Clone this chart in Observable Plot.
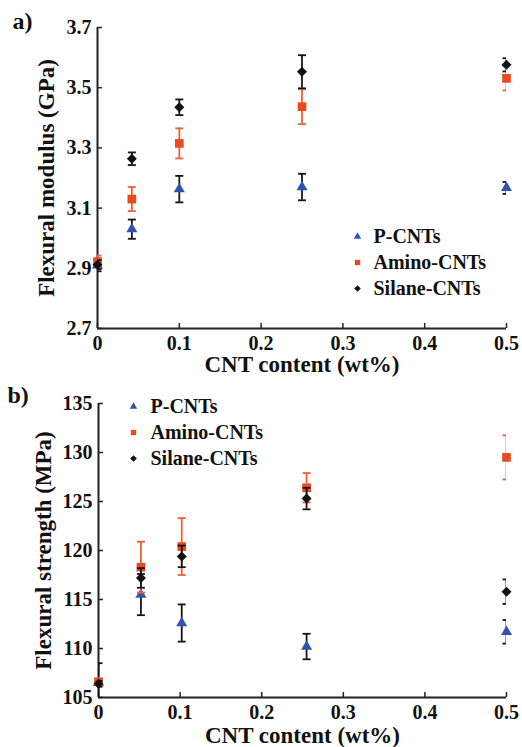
<!DOCTYPE html>
<html><head><meta charset="utf-8">
<script src="https://cdn.jsdelivr.net/npm/d3@7"></script>
<script src="https://cdn.jsdelivr.net/npm/@observablehq/plot@0.6"></script>
<style>
body{margin:0;background:#fff}
#chart svg{display:block}
</style>
</head><body><div id="chart"></div>
<script>
// ---------- data ----------
const seriesNames = ["P-CNTs", "Amino-CNTs", "Silane-CNTs"];
const xTicks = [0, 0.1, 0.2, 0.3, 0.4, 0.5];

// panel a) flexural modulus (GPa)
const modulusX = [0, 0.042, 0.1, 0.25, 0.5];
const modulusP = [2.91, 3.03, 3.163, 3.17, 3.167];
const modulusPErr = [0.02, 0.032, 0.044, 0.044, 0.02];
const modulusAmino = [2.922, 3.13, 3.315, 3.437, 3.531];
const modulusAminoErr = [0.02, 0.04, 0.05, 0.058, 0.04];
const modulusSilane = [2.912, 3.264, 3.435, 3.553, 3.576];
const modulusSilaneErr = [0.015, 0.021, 0.026, 0.055, 0.022];
const modulusTicks = [2.7, 2.9, 3.1, 3.3, 3.5, 3.7];

// panel b) flexural strength (MPa)
const strengthX = [0, 0.052, 0.102, 0.255, 0.5];
const strengthP = [106.5, 115.5, 112.6, 110.2, 111.7];
const strengthPErr = [2, 2.1, 1.9, 1.3, 1.2];
const strengthAmino = [106.6, 118.3, 120.4, 126.4, 129.5];
const strengthAminoErr = [0.3, 2.6, 2.9, 1.5, 2.25];
const strengthSilane = [106.4, 117.2, 119.4, 125.3, 115.8];
const strengthSilaneErr = [0.3, 1.0, 1.1, 1.1, 1.25];
const strengthTicks = [105, 110, 115, 120, 125, 130, 135];

// ---------- styles ----------
const FONT = "Liberation Serif";
const seriesStyle = [
  {symbol: "triangle", fill: "#3152b0", err: "#151515", r: 4.1, lr: 2.8},
  {symbol: "square", fill: "#ea4a1e", err: "#f05f36", r: 4.9, lr: 3.0},
  {symbol: "diamond2", fill: "#111111", err: "#151515", r: 4.5, lr: 3.0}
];
const capSymbol = {draw(ctx) { ctx.moveTo(-4, 0); ctx.lineTo(4, 0); }};

function panel(cfg) {
  const {xs, vals, errs, yDomain, yTicks, yFormat, yLabel, tag, height,
         marginTop, marginBottom, marginLeft, marginRight, legend} = cfg;
  const width = 522;
  const innerH = height - marginTop - marginBottom;
  const innerW = width - marginLeft - marginRight;
  const marks = [];
  seriesNames.forEach((name, si) => {
    const st = seriesStyle[si];
    const rows = xs.map((x, i) => ({x, y: vals[si][i], e: errs[si][i]}));
    marks.push(
      Plot.ruleX(rows, {x: "x", y1: d => d.y - d.e, y2: d => d.y + d.e, stroke: st.err, strokeWidth: 1.8, clip: true}),
      Plot.dot(rows, {x: "x", y: d => d.y + d.e, symbol: capSymbol, fill: "none", stroke: st.err, strokeWidth: 1.8, clip: true}),
      Plot.dot(rows, {x: "x", y: d => d.y - d.e, symbol: capSymbol, fill: "none", stroke: st.err, strokeWidth: 1.8, clip: true}),
      Plot.dot(rows, {x: "x", y: "y", symbol: st.symbol, fill: st.fill, stroke: "none", r: st.r})
    );
    marks.push(
      Plot.dot([name], {frameAnchor: "top-left", dx: legend.sx, dy: legend.y0 + si * legend.step,
        symbol: st.symbol, fill: st.fill, stroke: "none", r: st.lr}),
      Plot.text([name], {text: d => d, frameAnchor: "top-left", dx: legend.tx, dy: legend.y0 + si * legend.step,
        textAnchor: "start", lineAnchor: "middle", fontSize: 20, fontWeight: "bold", fontFamily: FONT, fill: "#111"})
    );
  });
  return Plot.plot({
    width, height, marginTop, marginBottom, marginLeft, marginRight,
    style: {fontFamily: FONT, fontWeight: "bold", color: "#111", background: "#fff", overflow: "visible"},
    x: {domain: [0, 0.5]},
    y: {domain: yDomain},
    marks: [
      Plot.ruleX([0], {stroke: "#222", strokeWidth: 2}),
      Plot.ruleY([yDomain[0]], {stroke: "#222", strokeWidth: 2}),
      Plot.tickX(xTicks, {x: d => d, insetTop: innerH - 5, stroke: "#222", strokeWidth: 1.5}),
      Plot.tickY(yTicks, {y: d => d, insetRight: innerW - 5, stroke: "#222", strokeWidth: 1.5}),
      Plot.axisX(xTicks, {tickSize: 0, tickPadding: 7, label: null, fontSize: 20, fontWeight: "bold",
        fontFamily: FONT, tickFormat: d => String(d)}),
      Plot.axisY(yTicks, {tickSize: 0, tickPadding: 6, label: null, fontSize: 20, fontWeight: "bold",
        fontFamily: FONT, tickFormat: yFormat}),
      ...marks,
      Plot.text(["CNT content (wt%)"], {text: d => d, frameAnchor: "bottom", dy: cfg.xLabelDy,
        textAnchor: "middle", lineAnchor: "bottom", fontSize: 23, fontWeight: "bold", fontFamily: FONT, fill: "#111"}),
      Plot.text([yLabel], {text: d => d, frameAnchor: "left", dx: cfg.yLabelDx, rotate: -90,
        textAnchor: "middle", lineAnchor: "middle", fontSize: 23, fontWeight: "bold", fontFamily: FONT, fill: "#111"}),
      Plot.text([tag], {text: d => d, frameAnchor: "top-left", dx: cfg.tagDx, dy: cfg.tagDy,
        textAnchor: "start", lineAnchor: "bottom", fontSize: 24, fontWeight: "bold", fontFamily: FONT, fill: "#111"})
    ]
  });
}

const chart = document.getElementById("chart");
chart.append(panel({
  xs: modulusX,
  vals: [modulusP, modulusAmino, modulusSilane],
  errs: [modulusPErr, modulusAminoErr, modulusSilaneErr],
  yDomain: [2.7, 3.7], yTicks: modulusTicks, yFormat: d3.format(".1f"),
  yLabel: "Flexural modulus (GPa)", tag: "a)",
  height: 374, marginTop: 27, marginBottom: 46, marginLeft: 97, marginRight: 16,
  legend: {sx: 260, tx: 276, y0: 209, step: 26},
  xLabelDy: 43, yLabelDx: -51, tagDx: -85, tagDy: 1
}));
chart.append(panel({
  xs: strengthX,
  vals: [strengthP, strengthAmino, strengthSilane],
  errs: [strengthPErr, strengthAminoErr, strengthSilaneErr],
  yDomain: [105, 135], yTicks: strengthTicks, yFormat: d3.format("d"),
  yLabel: "Flexural strength (MPa)", tag: "b)",
  height: 373, marginTop: 29, marginBottom: 50, marginLeft: 98, marginRight: 16,
  legend: {sx: 35, tx: 52, y0: 3, step: 26},
  xLabelDy: 45, yLabelDx: -55, tagDx: -91, tagDy: -1
}));
</script>
</body></html>
